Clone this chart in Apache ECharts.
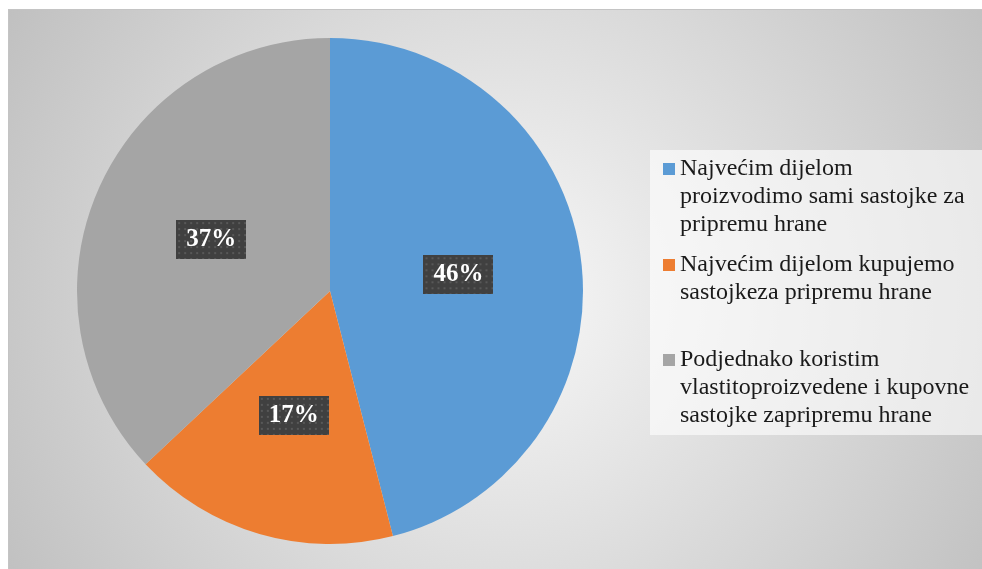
<!DOCTYPE html>
<html>
<head>
<meta charset="utf-8">
<script src="https://cdn.jsdelivr.net/npm/echarts@6/dist/echarts.min.js"></script>
<style>
html, body { margin: 0; padding: 0; background: #fff; overflow: hidden; width: 982px; height: 569px; }
#chart { position: absolute; left: 8px; top: 9px; width: 990px; height: 575px; border: 1px solid #c4c4c4; }
</style>
</head>
<body>
<div id="chart"></div>
<script>
const categories = [
  'Najvećim dijelom proizvodimo sami sastojke za pripremu hrane',
  'Najvećim dijelom kupujemo sastojkeza pripremu hrane',
  'Podjednako koristim vlastitoproizvedene i kupovne sastojke zapripremu hrane'
]
const values = [46, 17, 37]
const colors = ['#5b9bd5', '#ed7d31', '#a5a5a5']
// legend text as it wraps in the original
const legendLines = [
  ['Najvećim dijelom', 'proizvodimo sami sastojke za', 'pripremu hrane'],
  ['Najvećim dijelom kupujemo', 'sastojkeza pripremu hrane'],
  ['Podjednako koristim', 'vlastitoproizvedene i kupovne', 'sastojke zapripremu hrane']
]
const legendTop = [145, 241, 336]
const LH = 28
const MARK = 12

// square marker next to the first line only: the path spans the whole text block
function markerIcon(n) {
  const h = n * LH
  const y0 = (LH - MARK) / 2
  return 'path://M0,0L0.01,0ZM0,' + y0 + 'L' + MARK + ',' + y0 + 'L' + MARK + ',' + (y0 + MARK) +
    'L0,' + (y0 + MARK) + 'ZM0,' + h + 'L0.01,' + h + 'Z'
}

// dotted dark fill for the data labels
function dots(w, h) {
  const c = document.createElement('canvas')
  c.width = w; c.height = h
  const g = c.getContext('2d')
  g.fillStyle = '#404040'
  g.fillRect(0, 0, w, h)
  g.fillStyle = '#585858'
  for (let y = 2; y < h; y += 6) {
    for (let x = 2; x < w; x += 6) g.fillRect(x, y, 2, 2)
  }
  return c
}
const labelBg = dots(70, 39)

const chart = echarts.init(document.getElementById('chart'))
chart.setOption({
  backgroundColor: new echarts.graphic.RadialGradient(0.5, 0.5, 1.0, [
    {offset: 0, color: '#f8f8f8'},
    {offset: 1, color: '#c0c0c0'}
  ]),
  color: colors,
  animation: false,
  graphic: [{
    type: 'rect',
    z: 1,
    shape: {x: 641, y: 140, width: 345, height: 285},
    style: {fill: 'rgba(255,255,255,0.6)'}
  }],
  legend: categories.map((name, i) => ({
    data: [name],
    orient: 'vertical',
    left: 654,
    top: legendTop[i],
    padding: 0,
    itemWidth: MARK,
    itemHeight: legendLines[i].length * LH,
    icon: markerIcon(legendLines[i].length),
    selectedMode: false,
    formatter: () => legendLines[i].join('\n'),
    textStyle: {
      fontFamily: 'Liberation Serif',
      fontSize: 24,
      color: '#1a1a1a',
      lineHeight: LH
    }
  })),
  series: [{
    type: 'pie',
    center: [321, 281],
    radius: 253,
    startAngle: 90,
    clockwise: true,
    data: categories.map((name, i) => ({name: name, value: values[i]})),
    itemStyle: {borderWidth: 0},
    label: {
      show: true,
      position: 'inside',
      formatter: '{d}%',
      fontFamily: 'Liberation Serif',
      fontWeight: 'bold',
      fontSize: 25,
      color: '#fff',
      backgroundColor: {image: labelBg},
      width: 52,
      height: 25,
      overflow: 'none',
      align: 'center',
      lineHeight: 25,
      padding: [7, 9],
      shadowColor: 'rgba(0,0,0,0.45)',
      shadowBlur: 4,
      shadowOffsetX: 3,
      shadowOffsetY: 3
    },
    labelLine: {show: false},
    emphasis: {disabled: true}
  }]
})
</script>
</body>
</html>
